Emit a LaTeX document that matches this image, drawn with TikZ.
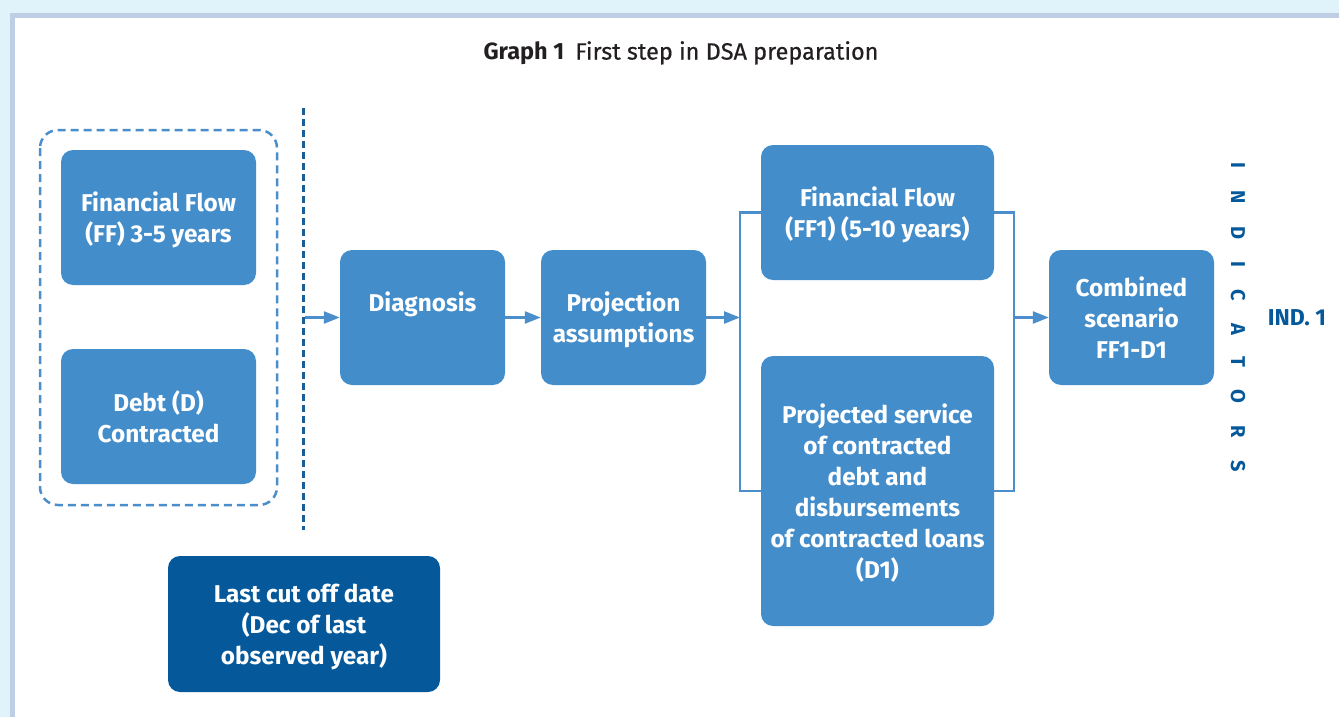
\documentclass[tikz,border=0pt]{standalone}
\usepackage{fontspec}
\setmainfont{Fira Sans}
\newfontfamily\semibold[FakeBold=0.5]{Fira Sans}
\usetikzlibrary{arrows.meta}

\definecolor{pagebg}{HTML}{E1F3FA}
\definecolor{framecol}{HTML}{C0CEE5}
\definecolor{boxblue}{HTML}{438DCB}
\definecolor{darkblue}{HTML}{05599A}
\definecolor{linkblue}{HTML}{4A8FCC}
\definecolor{cutblue}{HTML}{1A5E97}
\definecolor{titletext}{HTML}{231F20}

\tikzset{
  stepbox/.style={rounded corners=12pt, fill=boxblue, text=white, align=center,
    inner sep=0pt, text depth=0pt, font=\bfseries\fontsize{24.3}{31}\selectfont},
  datebox/.style={stepbox, fill=darkblue},
  conn/.style={draw=linkblue, line width=2.5pt},
  arr/.style={conn, -{Triangle[length=16pt,width=12pt]}},
}

\begin{document}
\begin{tikzpicture}[x=1pt,y=-1pt]
  \useasboundingbox (0,0) rectangle (1339,717);
  % page background and framed panel
  \fill[pagebg] (0,0) rectangle (1339,717);
  \fill[white] (12.5,15.5) rectangle (1345,725);
  \draw[framecol, line width=5pt] (1345,15.5) -- (12.5,15.5) -- (12.5,725);

  % title
  \node[text=titletext, font=\fontsize{23.5}{28}\selectfont] (title) at (681,53)
    {{\bfseries Graph 1}\hspace{11pt}{\semibold First step in DSA preparation}};

  % observed data group
  \draw[linkblue, line width=2.5pt, dash pattern=on 8pt off 5pt, rounded corners=18pt]
    (40,130) rectangle (277,505);
  \node[stepbox, minimum width=195pt, minimum height=135pt] (ff) at (158.5,217.5)
    {Financial Flow\\(FF) 3-5 years};
  \node[stepbox, minimum width=195pt, minimum height=135pt] (debt) at (158.5,416.5)
    {Debt (D)\\Contracted};

  % cut-off line
  \coordinate (cutTop) at (303,108);
  \coordinate (cutBot) at (303,530);
  \draw[cutblue, line width=3pt, dash pattern=on 7pt off 4pt] (cutTop) -- (cutBot);
  \coordinate (cutOut) at (305,317.5);

  % process steps
  \node[stepbox, minimum width=165pt, minimum height=135pt] (diag) at (422.5,317.5)
    {Diagnosis\\\mbox{}};
  \node[stepbox, minimum width=165pt, minimum height=135pt] (proj) at (623.5,317.5)
    {Projection\\assumptions};
  \node[stepbox, minimum width=233pt, minimum height=135pt] (ff1) at (877.5,212.5)
    {Financial Flow\\(FF1) (5-10 years)};
  \node[stepbox, minimum width=233pt, minimum height=270pt] (d1) at (877.5,491)
    {Projected service\\of contracted\\debt and\\disbursements\\of contracted loans\\(D1)};
  \node[stepbox, minimum width=165pt, minimum height=135pt] (comb) at (1131.5,317.5)
    {Combined\\scenario\\FF1-D1};

  % cut-off date
  \node[datebox, minimum width=272pt, minimum height=136pt] (cutoff) at (304,624)
    {Last cut off date\\(Dec of last\\observed year)};

  % connectors
  \coordinate (splitL) at (740,317.5);
  \coordinate (splitR) at (1014,317.5);
  \draw[arr] (cutOut) -- (diag.west);
  \draw[arr] (diag.east) -- (proj.west);
  \draw[arr] (proj.east) -- (splitL);
  \draw[conn] (ff1.west) -- (splitL |- ff1.west) -- (splitL |- d1.west) -- (d1.west);
  \draw[conn] (ff1.east) -- (splitR |- ff1.east) -- (splitR |- d1.east) -- (d1.east);
  \draw[arr] (splitR) -- (comb.west);

  % indicators
  \node[rotate=-90, text=darkblue, font=\bfseries\fontsize{20}{20}\selectfont\addfontfeature{LetterSpace=112}]
    (ind) at (1238,317) {INDICATORS};
  \node[text=darkblue, font=\bfseries\fontsize{23}{23}\selectfont] (ind1) at (1297,318) {IND. 1};
\end{tikzpicture}
\end{document}
